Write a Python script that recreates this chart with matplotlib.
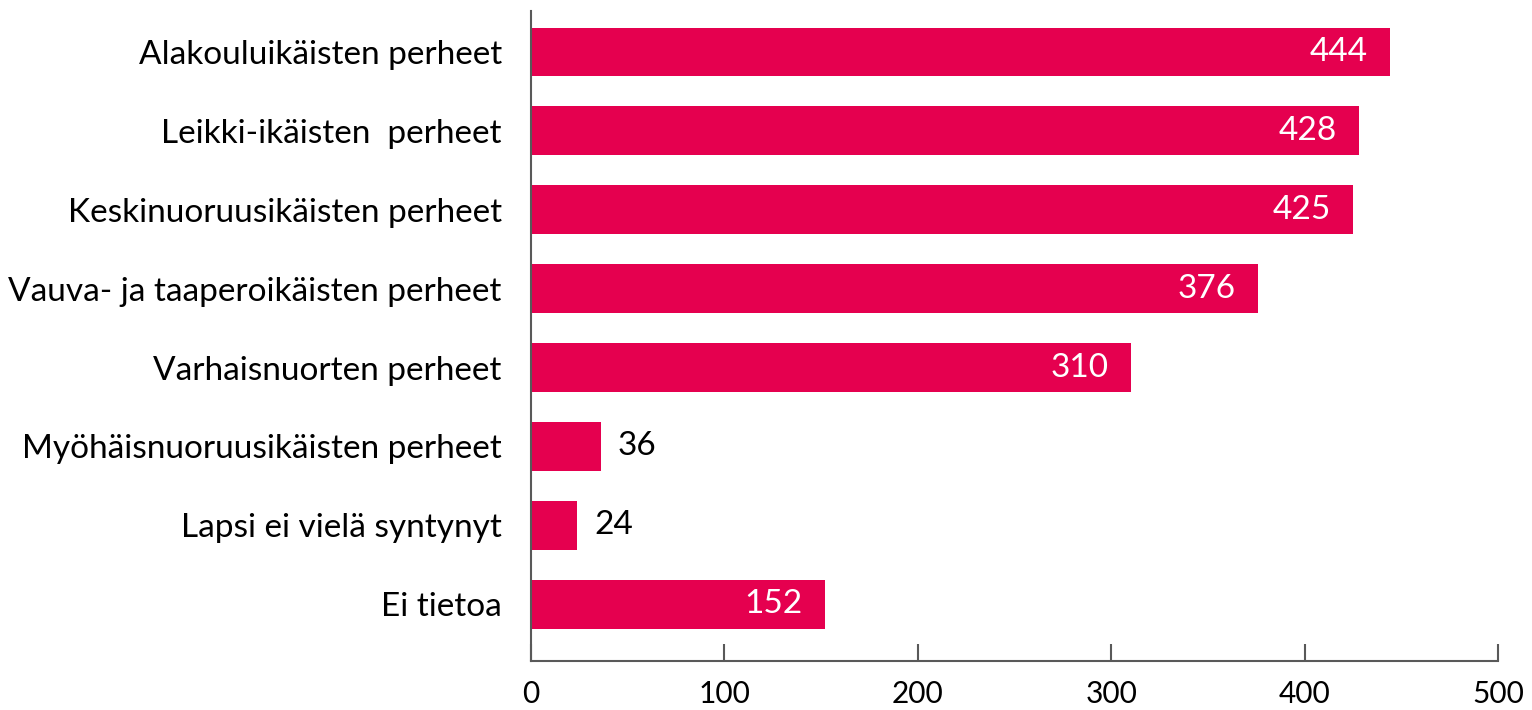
import matplotlib.pyplot as plt

plt.rcParams['font.family'] = ['Lato', 'DejaVu Sans']

categories = [
    "Alakouluikäisten perheet",
    "Leikki-ikäisten  perheet",
    "Keskinuoruusikäisten perheet",
    "Vauva- ja taaperoikäisten perheet",
    "Varhaisnuorten perheet",
    "Myöhäisnuoruusikäisten perheet",
    "Lapsi ei vielä syntynyt",
    "Ei tietoa",
]
values = [444, 428, 425, 376, 310, 36, 24, 152]
xticks = [0, 100, 200, 300, 400, 500]

bar_color = "#E5004F"
spine_color = "#595959"

fig = plt.figure(figsize=(15.32, 7.10), dpi=100)
ax = fig.add_axes([0.3466, 0.069, 0.6312, 0.9155])

pos = list(range(len(categories)))
ax.barh(pos, values, height=0.62, color=bar_color)
ax.set_ylim(7.72, -0.52)
ax.set_xlim(0, 500)

ax.set_yticks(pos)
ax.set_yticklabels(categories, fontsize=24, color="black")
ax.tick_params(axis="y", length=0, pad=21)
ax.set_xticks(xticks)
ax.set_xticklabels([str(t) for t in xticks], fontsize=21.5, color="black")
ax.tick_params(axis="x", direction="in", length=12, width=1.5, color=spine_color, pad=14)

for side in ["top", "right"]:
    ax.spines[side].set_visible(False)
for side in ["left", "bottom"]:
    ax.spines[side].set_color(spine_color)
    ax.spines[side].set_linewidth(1.5)

for p, v in zip(pos, values):
    if v > 100:
        ax.text(v - 11.4, p, str(v), ha="right", va="center", fontsize=24, color="white")
    else:
        ax.text(v + 8.8, p, str(v), ha="left", va="center", fontsize=24, color="black")

fig.savefig("out.png", dpi=100)
